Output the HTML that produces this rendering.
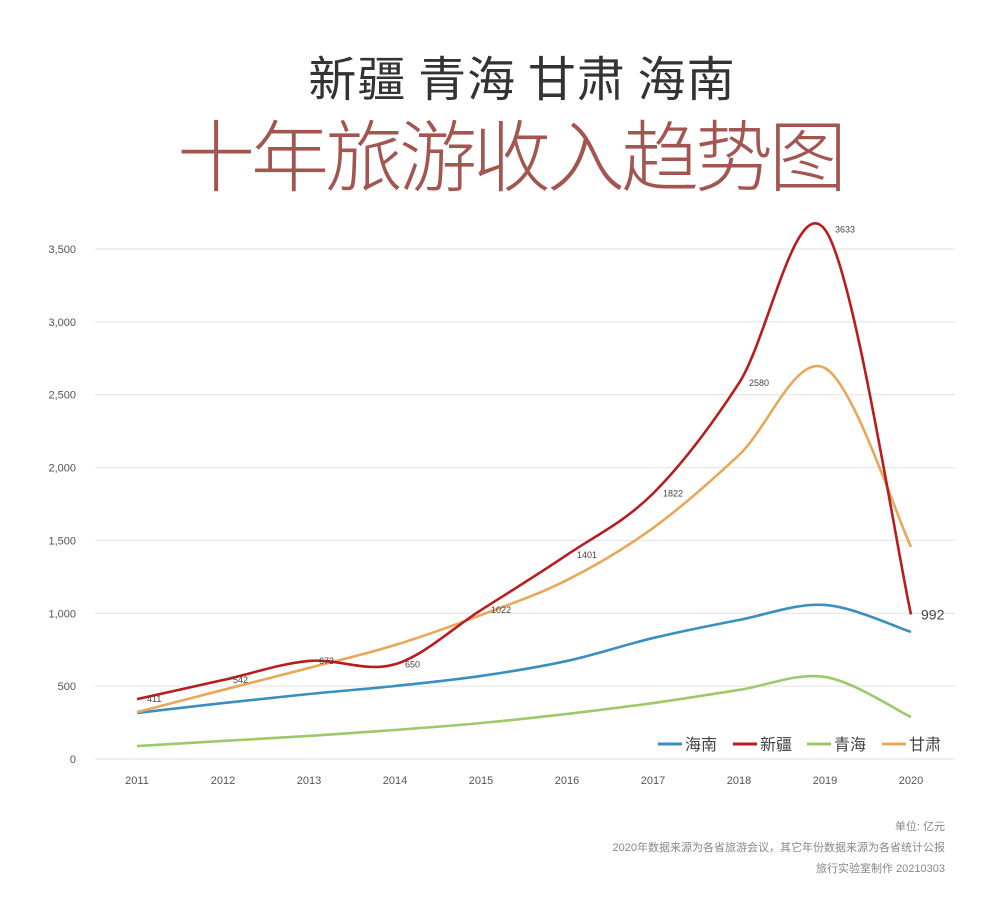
<!DOCTYPE html>
<html><head><meta charset="utf-8"><style>
body{margin:0;background:#fff;width:1000px;height:900px;overflow:hidden;font-family:"Liberation Sans","Noto Sans CJK SC",sans-serif}
.t1{position:absolute;left:22px;width:1000px;top:40px;text-align:center;font-size:48px;color:#333;font-family:"Noto Sans CJK SC",sans-serif;letter-spacing:1px}
.t2{position:absolute;left:10px;width:1000px;top:96px;text-align:center;font-size:78px;color:#a35550;font-family:"Noto Sans CJK SC",sans-serif;font-weight:300;letter-spacing:-4px}
.foot{position:absolute;right:55px;font-size:11px;color:#888;font-family:"Liberation Sans","Noto Sans CJK SC",sans-serif}
</style></head><body>
<div class="t1">新疆 青海 甘肃 海南</div>
<div class="t2">十年旅游收入趋势图</div>
<svg id="c" width="1000" height="900" style="position:absolute;left:0;top:0"></svg>
<div class="foot" style="top:818px">单位: 亿元</div>
<div class="foot" style="top:839px">2020年数据来源为各省旅游会议，其它年份数据来源为各省统计公报</div>
<div class="foot" style="top:860px">旅行实验室制作 20210303</div>
<script>
const years=[2011,2012,2013,2014,2015,2016,2017,2018,2019,2020];
const yTicks=[0,500,1000,1500,2000,2500,3000,3500];
const hainan=[316,384,446,501,570,673,830,954,1057,872];
const xinjiang=[411,542,673,650,1022,1401,1822,2580,3633,992];
const qinghai=[89,124,158,199,247,309,384,474,563,288];
const gansu=[322,474,625,782,988,1228,1585,2086,2683,1455];
const NS="http://www.w3.org/2000/svg";
const svg=document.getElementById('c');
const X=i=>137+i*86, Y=v=>759-v*510/3500;
function el(t,a,p){const e=document.createElementNS(NS,t);for(const k in a)e.setAttribute(k,a[k]);(p||svg).appendChild(e);return e;}
yTicks.forEach(v=>{
 const g=el('line',{x1:95,x2:955,y1:Y(v),y2:Y(v),stroke:'#e2e2e2','stroke-width':1});
 
 
 const t=el('text',{x:76,y:Y(v)+4,'text-anchor':'end','font-size':11,fill:'#555'});
 t.textContent=v.toLocaleString('en-US');
 
 
});
years.forEach((yr,i)=>{
 const t=el('text',{x:X(i),y:784,'text-anchor':'middle','font-size':11,fill:'#555'});
 t.textContent=yr;
 
 
});
function path(vals){
 const p=vals.map((v,i)=>[X(i),Y(v)]);
 let d='M'+p[0];
 for(let i=0;i<p.length-1;i++){
  const p0=p[i-1]||p[i],p1=p[i],p2=p[i+1],p3=p[i+2]||p2;
  const c1=[p1[0]+(p2[0]-p0[0])/6,p1[1]+(p2[1]-p0[1])/6];
  const c2=[p2[0]-(p3[0]-p1[0])/6,p2[1]-(p3[1]-p1[1])/6];
  d+=' C'+c1+' '+c2+' '+p2;
 }
 return d;
}
const series=[['hainan',hainan,'#3a8fc0'],['qinghai',qinghai,'#9dc96a'],['gansu',gansu,'#e8a85a'],['xinjiang',xinjiang,'#b81c1c']];
series.forEach(s=>{
 const e=el('path',{d:path(s[1]),fill:'none',stroke:s[2],'stroke-width':2.6});
 
 
});
xinjiang.forEach((v,i)=>{
 const last=i===xinjiang.length-1;
 const t=el('text',{x:X(i)+10,y:Y(v)+(last?5:3),'font-size':last?14:9,fill:'#444'});
 t.textContent=v;
 
 
});
const leg=[['海南','#3a8fc0',658],['新疆','#b81c1c',733],['青海','#9dc96a',807],['甘肃','#e8a85a',882]];
leg.forEach(l=>{
 const g=el('g',{});
 
 
 el('line',{x1:l[2],x2:l[2]+24,y1:744,y2:744,stroke:l[1],'stroke-width':3},g);
 const t=el('text',{x:l[2]+27,y:750,'font-size':16,fill:'#444'},g);
 t.textContent=l[0];
});
</script>
</body></html>
